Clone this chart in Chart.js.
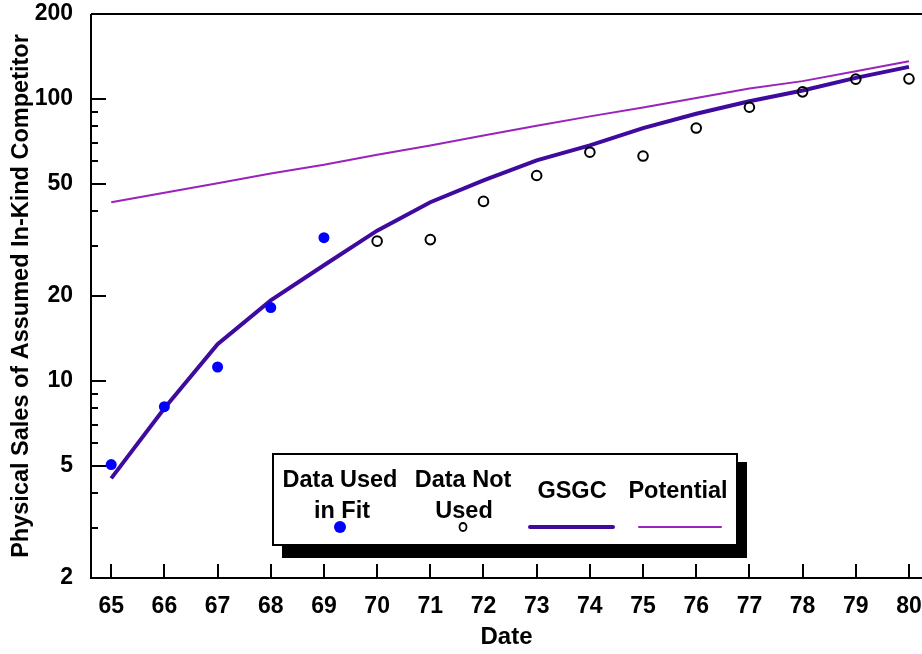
<!DOCTYPE html>
<html>
<head>
<meta charset="utf-8">
<script src="https://cdn.jsdelivr.net/npm/chart.js@4"></script>
<style>
    html, body { margin: 0; padding: 0; background: #fff; }
    #wrap { width: 922px; height: 654px; }
</style>
</head>
<body>
<div id="wrap"><canvas id="sales"></canvas></div>
<script>
// values
const years = [65, 66, 67, 68, 69, 70, 71, 72, 73, 74, 75, 76, 77, 78, 79, 80];
const fitYears = [65, 66, 67, 68, 69];
const fitValues = [5.05, 8.1, 11.2, 18.2, 32.2];
const notUsedYears = [70, 71, 72, 73, 74, 75, 76, 77, 78, 79, 80];
const notUsedValues = [31.3, 31.7, 43.3, 53.5, 64.7, 62.7, 78.8, 93.4, 105.9, 117.5, 117.8];
const gsgcValues = [4.51, 8.0, 13.5, 19.3, 25.7, 34.1, 43.0, 51.4, 60.5, 68.4, 78.8, 88.6, 98.1, 107.1, 118.7, 129.9];
const potentialValues = [43.0, 46.5, 50.2, 54.4, 58.4, 63.4, 68.4, 74.1, 80.3, 86.7, 93.2, 100.8, 108.9, 115.6, 125.4, 136.1];

const xTicks = [65, 66, 67, 68, 69, 70, 71, 72, 73, 74, 75, 76, 77, 78, 79, 80];
const yTicks = [2, 3, 4, 5, 6, 7, 8, 9, 10, 20, 30, 40, 50, 60, 70, 80, 90, 100, 200];
const yLabels = [2, 5, 10, 20, 50, 100, 200];

const FONT = "'Liberation Sans', Arial, sans-serif";
const GSGC_COLOR = '#3f0a9e';
const POTENTIAL_COLOR = '#9a22bd';
const FIT_COLOR = '#0000ff';

function pts(xs, ys) {
    return xs.map((x, i) => ({x: x, y: ys[i]}));
}

// inward tick marks and the frame lines
const frame = {
    id: 'frame',
    afterDatasetsDraw(chart) {
        const {ctx, chartArea: a, scales: {x, y}} = chart;
        ctx.save();
        ctx.strokeStyle = '#000';
        ctx.lineWidth = 2;
        ctx.beginPath();
        ctx.moveTo(a.left, a.top);
        ctx.lineTo(a.right, a.top);
        ctx.moveTo(a.left, a.top);
        ctx.lineTo(a.left, a.bottom);
        ctx.lineTo(a.right, a.bottom);
        yTicks.forEach(v => {
            const py = Math.round(y.getPixelForValue(v));
            const len = yLabels.includes(v) ? 15 : 7;
            ctx.moveTo(a.left, py);
            ctx.lineTo(a.left + len, py);
        });
        xTicks.forEach(v => {
            const px = Math.round(x.getPixelForValue(v));
            ctx.moveTo(px, a.bottom);
            ctx.lineTo(px, a.bottom - 14);
        });
        ctx.stroke();
        ctx.restore();
    }
};

// boxed legend with drop shadow
const boxLegend = {
    id: 'boxLegend',
    afterDraw(chart) {
        const ctx = chart.ctx;
        const ds = chart.data.datasets;
        ctx.save();
        ctx.fillStyle = '#000';
        ctx.fillRect(282, 462, 465, 96);
        ctx.fillStyle = '#fff';
        ctx.fillRect(273, 454, 464, 91);
        ctx.strokeStyle = '#000';
        ctx.lineWidth = 2;
        ctx.strokeRect(273, 454, 464, 91);

        ctx.fillStyle = '#000';
        ctx.font = 'bold 23.5px ' + FONT;
        ctx.textAlign = 'center';
        ctx.textBaseline = 'middle';
        ctx.fillText('Data Used', 340, 481);
        ctx.fillText('in Fit', 342, 512);
        ctx.fillText('Data Not', 463, 481);
        ctx.fillText('Used', 464, 512);
        ctx.fillText('GSGC', 572, 492);
        ctx.fillText('Potential', 678, 492);

        const my = 527;
        ctx.fillStyle = ds[2].backgroundColor;
        ctx.beginPath();
        ctx.arc(340, my, 6, 0, Math.PI * 2);
        ctx.fill();

        ctx.strokeStyle = ds[3].borderColor;
        ctx.lineWidth = 1.8;
        ctx.beginPath();
        ctx.ellipse(463, my, 3.5, 4, 0, 0, Math.PI * 2);
        ctx.stroke();

        ctx.lineCap = 'round';
        ctx.strokeStyle = ds[0].borderColor;
        ctx.lineWidth = ds[0].borderWidth;
        ctx.beginPath();
        ctx.moveTo(530, my);
        ctx.lineTo(613, my);
        ctx.stroke();

        ctx.strokeStyle = ds[1].borderColor;
        ctx.lineWidth = ds[1].borderWidth;
        ctx.beginPath();
        ctx.moveTo(639, my);
        ctx.lineTo(721, my);
        ctx.stroke();
        ctx.restore();
    }
};

const data = {
    datasets: [
        {
            label: 'GSGC',
            data: pts(years, gsgcValues),
            showLine: true,
            borderColor: GSGC_COLOR,
            borderWidth: 4,
            pointRadius: 0,
            tension: 0,
            order: 2
        },
        {
            label: 'Potential',
            data: pts(years, potentialValues),
            showLine: true,
            borderColor: POTENTIAL_COLOR,
            borderWidth: 2,
            pointRadius: 0,
            tension: 0,
            order: 3
        },
        {
            label: 'Data Used in Fit',
            data: pts(fitYears, fitValues),
            backgroundColor: FIT_COLOR,
            borderColor: FIT_COLOR,
            borderWidth: 0,
            pointRadius: 5.5,
            order: 0
        },
        {
            label: 'Data Not Used',
            data: pts(notUsedYears, notUsedValues),
            backgroundColor: 'rgba(0,0,0,0)',
            borderColor: '#000',
            borderWidth: 2,
            pointRadius: 4.8,
            order: 1
        }
    ]
};

const config = {
    type: 'scatter',
    data: data,
    options: {
        responsive: true,
        maintainAspectRatio: false,
        animation: false,
        layout: {
            autoPadding: false,
            padding: {top: 14, left: 0, right: 0, bottom: 0}
        },
        scales: {
            x: {
                type: 'linear',
                min: 64.62,
                max: 80.245,
                grid: {display: false, drawTicks: false},
                border: {display: false},
                afterBuildTicks: scale => {
                    scale.ticks = xTicks.map(v => ({value: v}));
                },
                afterFit: scale => {
                    scale.height = 76;
                    scale.paddingLeft = 0;
                    scale.paddingRight = 0;
                },
                ticks: {
                    autoSkip: false,
                    maxRotation: 0,
                    padding: 15,
                    color: '#000',
                    font: {family: FONT, size: 23, weight: 'bold'},
                    callback: v => String(v)
                },
                title: {
                    display: true,
                    text: 'Date',
                    color: '#000',
                    padding: {top: 0, bottom: 2},
                    font: {family: FONT, size: 24, weight: 'bold'}
                }
            },
            y: {
                type: 'logarithmic',
                min: 2,
                max: 200,
                grid: {display: false, drawTicks: false},
                border: {display: false},
                afterBuildTicks: scale => {
                    scale.ticks = yTicks.map(v => ({value: v}));
                },
                afterFit: scale => {
                    scale.width = 91;
                    scale.paddingTop = 0;
                    scale.paddingBottom = 0;
                },
                ticks: {
                    autoSkip: false,
                    padding: 18,
                    color: '#000',
                    font: {family: FONT, size: 23, weight: 'bold'},
                    callback: v => yLabels.includes(v) ? String(v) : ''
                },
                title: {
                    display: true,
                    text: 'Physical Sales of Assumed In-Kind Competitor',
                    color: '#000',
                    padding: {top: 7, bottom: 0},
                    font: {family: FONT, size: 23.5, weight: 'bold'}
                }
            }
        },
        plugins: {
            legend: {display: false},
            tooltip: {enabled: false}
        }
    },
    plugins: [frame, boxLegend]
};

new Chart(document.getElementById('sales'), config);
</script>
</body>
</html>
